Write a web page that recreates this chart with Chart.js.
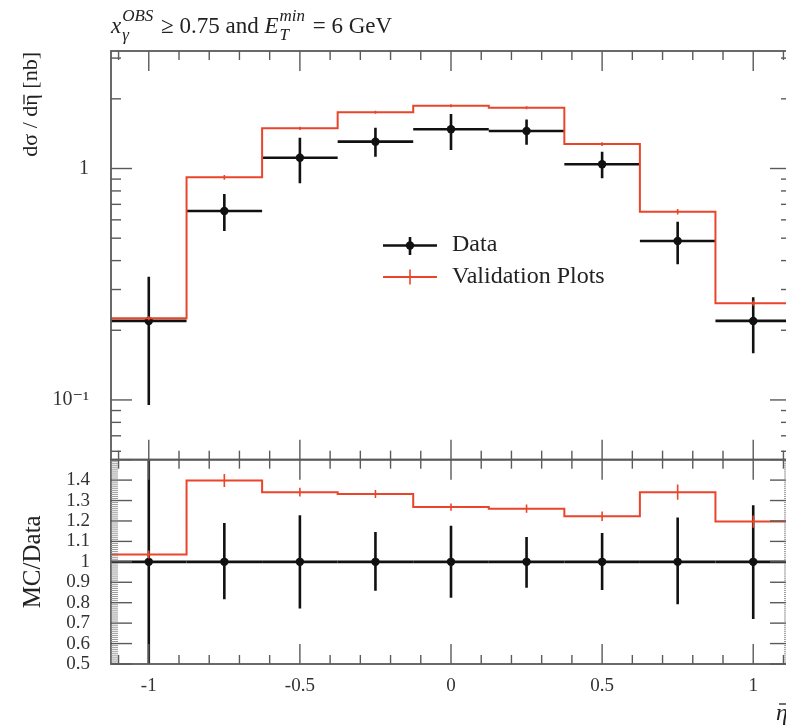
<!DOCTYPE html>
<html><head><meta charset="utf-8">
<script src="https://cdn.jsdelivr.net/npm/chart.js@4.4.1/dist/chart.umd.min.js"></script>
<style>
html,body{margin:0;padding:0;background:#fff;overflow:hidden;width:786px;height:728px}
#wrap{position:absolute;left:0;top:0;width:800px;height:728px}
</style>
</head><body><div id="wrap"><canvas id="c" width="800" height="728"></canvas></div>
<script>
// ---- data ----
const binEdges   = [-1.125,-0.875,-0.625,-0.375,-0.125,0.125,0.375,0.625,0.875,1.125];
const binCenters = [-1,-0.75,-0.5,-0.25,0,0.25,0.5,0.75,1];
const dataValues = [0.2195,0.655,1.113,1.306,1.477,1.452,1.043,0.486,0.2195];
const dataLow    = [0.0952,0.537,0.863,1.124,1.202,1.268,0.907,0.386,0.159];
const dataHigh   = [0.341,0.776,1.359,1.500,1.720,1.629,1.182,0.589,0.278];
const mcValues   = [0.2254,0.916,1.492,1.749,1.867,1.830,1.276,0.651,0.2617];
const mcErr      = [0.0045,0.021,0.024,0.026,0.026,0.029,0.024,0.018,0.0065];
const ratioData  = [1,1,1,1,1,1,1,1,1];
const ratioLow   = [0.434,0.817,0.772,0.859,0.824,0.873,0.862,0.792,0.720];
const ratioHigh  = [1.553,1.190,1.228,1.146,1.176,1.122,1.141,1.217,1.277];
const ratioMC    = [1.036,1.398,1.341,1.332,1.268,1.260,1.223,1.341,1.197];
const ratioMCErr = [0.020,0.032,0.021,0.020,0.018,0.020,0.023,0.037,0.030];
const xTickValues = [-1,-0.5,0,0.5,1];
const xTickLabels = ['-1','-0.5','0','0.5','1'];
const yTickValues = [0.1,1];
const yTickLabels = ['10⁻¹','1'];
const ratioTickValues = [0.5,0.6,0.7,0.8,0.9,1,1.1,1.2,1.3,1.4];
const ratioTickLabels = ['0.5','0.6','0.7','0.8','0.9','1','1.1','1.2','1.3','1.4'];
const seriesNames = ['Data','Validation Plots'];

const RED = '#e9452b';
const FRAME = '#5a5a5a';
const SERIF = '"Liberation Serif", "DejaVu Serif", serif';

function stepPoints(vals){ return binEdges.map((e,i)=>({x:e, y: vals[Math.min(i, vals.length-1)]})); }
function pts(vals){ return binCenters.map((c,i)=>({x:c, y: vals[i]})); }

function drawDataBars(ctx, xs, ys, vals, lo, hi, area){
  ctx.save();
  ctx.beginPath(); ctx.rect(area.left, ys.top, area.right-area.left, ys.bottom-ys.top); ctx.clip();
  ctx.strokeStyle = '#111'; ctx.lineWidth = 2.6; ctx.lineCap = 'butt';
  for (let i=0;i<vals.length;i++){
    const py = ys.getPixelForValue(vals[i]);
    ctx.beginPath();
    ctx.moveTo(xs.getPixelForValue(binEdges[i]), py);
    ctx.lineTo(xs.getPixelForValue(binEdges[i+1]), py);
    ctx.stroke();
    const px = xs.getPixelForValue(binCenters[i]);
    ctx.beginPath();
    ctx.moveTo(px, ys.getPixelForValue(lo[i]));
    ctx.lineTo(px, ys.getPixelForValue(hi[i]));
    ctx.stroke();
  }
  ctx.restore();
}
function drawMCErr(ctx, xs, ys, vals, err, area){
  ctx.save();
  ctx.beginPath(); ctx.rect(area.left, ys.top, area.right-area.left, ys.bottom-ys.top); ctx.clip();
  ctx.strokeStyle = RED; ctx.lineWidth = 1.6;
  for (let i=0;i<vals.length;i++){
    const px = xs.getPixelForValue(binCenters[i]);
    ctx.beginPath();
    ctx.moveTo(px, ys.getPixelForValue(vals[i]-err[i]));
    ctx.lineTo(px, ys.getPixelForValue(vals[i]+err[i]));
    ctx.stroke();
  }
  ctx.restore();
}
function tickLine(ctx, x1,y1,x2,y2){ ctx.beginPath(); ctx.moveTo(x1,y1); ctx.lineTo(x2,y2); ctx.stroke(); }

const plotPlugin = {
  id: 'plotPlugin',
  beforeDatasetsDraw(chart){
    const {ctx, chartArea, scales} = chart;
    drawDataBars(ctx, scales.x, scales.y, dataValues, dataLow, dataHigh, chartArea);
    drawDataBars(ctx, scales.x, scales.yr, ratioData, ratioLow, ratioHigh, chartArea);
  },
  afterDatasetsDraw(chart){
    const {ctx, chartArea:a, scales} = chart;
    const xs = scales.x, y = scales.y, yr = scales.yr;
    drawMCErr(ctx, xs, y, mcValues, mcErr, a);
    drawMCErr(ctx, xs, yr, ratioMC, ratioMCErr, a);

    ctx.save();
    ctx.strokeStyle = FRAME; ctx.lineWidth = 1.8;
    ctx.strokeRect(a.left, y.top, a.right-a.left, y.bottom-y.top);
    ctx.strokeRect(a.left, yr.top, a.right-a.left, yr.bottom-yr.top);
    ctx.lineWidth = 1.4;
    for (let k=-11;k<=11;k++){
      const px = xs.getPixelForValue(k/10);
      const L = (k%5===0) ? 20 : 9;
      tickLine(ctx, px, y.top, px, y.top+L);
      tickLine(ctx, px, y.bottom, px, y.bottom-L);
      tickLine(ctx, px, yr.top, px, yr.top+L);
      tickLine(ctx, px, yr.bottom, px, yr.bottom-L);
    }
    for (let d=-2; d<=0; d++){
      for (let k=1;k<=9;k++){
        const v = k*Math.pow(10,d);
        if (v < y.min || v > y.max) continue;
        const py = y.getPixelForValue(v);
        const L = k===1 ? 21 : 10;
        tickLine(ctx, a.left, py, a.left+L, py);
        tickLine(ctx, a.right, py, a.right-L, py);
      }
    }
    for (let i=50;i<=150;i++){
      const py = yr.getPixelForValue(i/100);
      if (i%10===0){ ctx.lineWidth=1.4; ctx.strokeStyle=FRAME;
        tickLine(ctx, a.left, py, a.left+21, py); tickLine(ctx, a.right, py, a.right-21, py);
      } else { ctx.lineWidth=1; ctx.strokeStyle='#999';
        tickLine(ctx, a.left, py, a.left+7, py); tickLine(ctx, a.right, py, a.right-7, py);
      }
    }
    ctx.restore();
  },
  afterDraw(chart){
    const {ctx, chartArea:a, scales} = chart;
    ctx.save();
    ctx.fillStyle = '#222';
    ctx.textBaseline = 'alphabetic';
    // title
    let x = a.left, base = 33;
    const put = (txt, font, dy) => { ctx.font = font; ctx.fillText(txt, x, base+dy); return ctx.measureText(txt).width; };
    x += put('x', `italic 23px ${SERIF}`, 0) + 1;
    { const w1 = put('OBS', `italic 17px ${SERIF}`, -12); const w2 = put('γ', `italic 17px ${SERIF}`, 7); x += Math.max(w1,w2) + 2; }
    x += put(' ≥ 0.75 and ', `23px ${SERIF}`, 0);
    x += put('E', `italic 23px ${SERIF}`, 0) + 1;
    { const w1 = put('min', `italic 17px ${SERIF}`, -12); const w2 = put('T', `italic 17px ${SERIF}`, 7); x += Math.max(w1,w2) + 2; }
    x += put(' = 6 GeV', `23px ${SERIF}`, 0);

    // y label main (rotated), eta with bar drawn as a line
    ctx.save();
    ctx.translate(37, scales.y.top + 1); ctx.rotate(-Math.PI/2);
    ctx.font = `22px ${SERIF}`; ctx.textAlign = 'left'; ctx.textBaseline = 'alphabetic';
    const p1 = 'dσ / d', p2 = 'η', p3 = ' [nb]';
    const w1 = ctx.measureText(p1).width, w2 = ctx.measureText(p2).width, w3 = ctx.measureText(p3).width;
    let u = -(w1+w2+w3);
    ctx.fillText(p1, u, 0); u += w1;
    ctx.fillText(p2, u, 0);
    ctx.strokeStyle = '#222'; ctx.lineWidth = 1.3;
    tickLine(ctx, u+1.5, -13, u+w2-0.5, -13);
    u += w2;
    ctx.fillText(p3, u, 0);
    ctx.restore();

    ctx.save(); ctx.translate(33, (scales.yr.top+scales.yr.bottom)/2); ctx.rotate(-Math.PI/2);
    ctx.font = `25px ${SERIF}`; ctx.textAlign = 'center'; ctx.textBaseline = 'middle';
    ctx.fillText('MC/Data', 0, 0); ctx.restore();

    // x label
    ctx.font = `italic 24px ${SERIF}`;
    ctx.textAlign = 'left'; ctx.textBaseline = 'alphabetic';
    const ex = 776;
    ctx.fillText('η', ex, 720);
    const ew = ctx.measureText('η').width;
    ctx.strokeStyle = '#222'; ctx.lineWidth = 1.3;
    tickLine(ctx, ex+3, 704, ex+ew+1, 704);

    // legend
    const lx1 = 383, lx2 = 437, lcx = 410, tx = 452;
    ctx.lineWidth = 2.6; ctx.strokeStyle = '#111';
    tickLine(ctx, lx1, 245.5, lx2, 245.5); tickLine(ctx, lcx, 237, lcx, 255);
    ctx.fillStyle = '#111'; ctx.beginPath(); ctx.arc(lcx, 245.5, 4.2, 0, Math.PI*2); ctx.fill();
    ctx.lineWidth = 2; ctx.strokeStyle = RED;
    tickLine(ctx, lx1, 277, lx2, 277); ctx.lineWidth = 1.6; tickLine(ctx, lcx, 269.5, lcx, 284.5);
    ctx.fillStyle = '#222'; ctx.font = `24px ${SERIF}`; ctx.textAlign = 'left'; ctx.textBaseline = 'middle';
    ctx.fillText(seriesNames[0], tx, 245);
    ctx.fillText(seriesNames[1], tx, 277);
    ctx.restore();
  }
};

const tickFont = {family: SERIF, size: 19};
new Chart(document.getElementById('c'), {
  type: 'line',
  data: {
    datasets: [
      {label: seriesNames[1], data: stepPoints(mcValues), xAxisID:'x', yAxisID:'y', stepped:true,
       borderColor: RED, borderWidth: 2, pointRadius: 0, fill: false, order: 0},
      {label: seriesNames[1]+' ratio', data: stepPoints(ratioMC), xAxisID:'x', yAxisID:'yr', stepped:true,
       borderColor: RED, borderWidth: 2, pointRadius: 0, fill: false, order: 0},
      {label: seriesNames[0], data: pts(dataValues), xAxisID:'x', yAxisID:'y', showLine:false,
       pointRadius: 4.2, pointBackgroundColor:'#111', pointBorderColor:'#111', pointBorderWidth:0, order: 1},
      {label: seriesNames[0]+' ratio', data: pts(ratioData), xAxisID:'x', yAxisID:'yr', showLine:false,
       pointRadius: 4.2, pointBackgroundColor:'#111', pointBorderColor:'#111', pointBorderWidth:0, order: 1}
    ]
  },
  options: {
    responsive: false, animation: false, devicePixelRatio: 1,
    layout: {padding: {top: 51, right: 9, left: 0, bottom: 0}},
    plugins: {legend: {display:false}, tooltip: {enabled:false}},
    scales: {
      x: {type:'linear', position:'bottom', min:-1.125, max:1.125,
          grid:{display:false}, border:{display:false},
          afterBuildTicks: s => { s.ticks = xTickValues.map(v=>({value:v})); },
          afterFit: s => { s.height = 64; },
          ticks:{font:tickFont, color:'#333', padding:3, autoSkip:false, maxRotation:0,
                 callback: (v) => { const i = xTickValues.indexOf(v); return i>=0 ? xTickLabels[i] : ''; }}},
      y: {type:'logarithmic', position:'left', stack:'panels', stackWeight:2, weight:1,
          min:0.0552, max:3.219,
          grid:{display:false}, border:{display:false},
          afterBuildTicks: s => { s.ticks = yTickValues.map(v=>({value:v})); },
          afterFit: s => { s.width = 111; },
          ticks:{font:{family: SERIF, size: 20}, color:'#333', padding:14, autoSkip:false,
                 callback: (v) => { const i = yTickValues.indexOf(v); return i>=0 ? yTickLabels[i] : ''; }}},
      yr: {type:'linear', position:'left', stack:'panels', stackWeight:1, weight:0,
          min:0.5, max:1.5,
          grid:{display:false}, border:{display:false},
          afterBuildTicks: s => { s.ticks = ratioTickValues.map(v=>({value:v})); },
          afterFit: s => { s.width = 111; },
          ticks:{font:tickFont, color:'#333', padding:13, autoSkip:false,
                 callback: (v) => { const i = ratioTickValues.findIndex(t=>Math.abs(t-v)<1e-9); return i>=0 ? ratioTickLabels[i] : ''; }}}
    }
  },
  plugins: [plotPlugin]
});
</script>
</body></html>
